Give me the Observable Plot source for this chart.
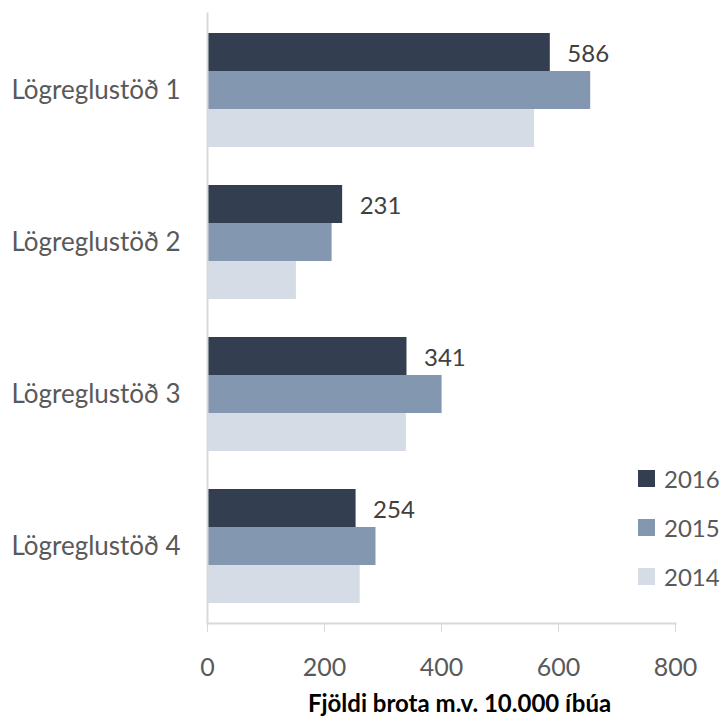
<!DOCTYPE html>
<html>
<head>
<meta charset="utf-8">
<script src="https://cdn.jsdelivr.net/npm/d3@7"></script>
<script src="https://cdn.jsdelivr.net/npm/@observablehq/plot@0.6"></script>
<style>
  html, body { margin: 0; padding: 0; background: #fff; }
  #wrap { position: relative; width: 726px; height: 718px; font-family: Lato, "Open Sans", sans-serif; }
  #legend { position: absolute; left: 638px; top: 0; }
  .li { position: absolute; left: 0; display: flex; align-items: center; white-space: nowrap; height: 30px; }
  .sw { width: 17px; height: 17px; margin-right: 9px; }
  .lt { font-size: 24px; color: #595959; }
</style>
</head>
<body>
<div id="wrap"><div id="chart"></div><div id="legend"></div></div>
<script>
const categories = ["Lögreglustöð 1", "Lögreglustöð 2", "Lögreglustöð 3", "Lögreglustöð 4"];
const years = ["2016", "2015", "2014"];
const v2016 = [586, 231, 341, 254];
const v2015 = [655, 213, 401, 288];
const v2014 = [559, 152, 340, 261];
const xTicks = [0, 200, 400, 600, 800];
const colors = ["#333f50", "#8497b0", "#d6dce5"];
const axisTitle = "Fjöldi brota m.v. 10.000 íbúa";

const series = {"2016": v2016, "2015": v2015, "2014": v2014};
const key = (c, y) => c + "|" + y;
const data = categories.flatMap((c, i) => years.map(y => ({cat: c, year: y, key: key(c, y), value: series[y][i]})));
// band domain: three bars per station, one empty slot between stations
const yDomain = categories.flatMap((c, i) => [
  ...years.map(y => key(c, y)),
  ...(i < categories.length - 1 ? ["gap" + i] : [])
]);
const labelKeys = categories.map(c => key(c, years[1]));

const chart = Plot.plot({
  width: 726,
  height: 718,
  marginLeft: 207,
  marginRight: 51,
  marginTop: 13,
  marginBottom: 95,
  style: {fontFamily: "Lato, 'Open Sans', sans-serif", color: "#595959", background: "white"},
  x: {domain: [0, 800]},
  y: {domain: yDomain, paddingInner: 0, paddingOuter: 0.5},
  color: {domain: years, range: colors},
  marks: [
    Plot.barX(data, {x: "value", y: "key", fill: "year"}),
    Plot.text(data.filter(d => d.year === "2016"), {
      x: "value", y: "key", text: d => String(d.value),
      textAnchor: "start", dx: 17, dy: 2, fontSize: 24, fill: "#404040"
    }),
    Plot.axisY({ticks: labelKeys, tickFormat: k => k.split("|")[0], tickSize: 0, tickPadding: 27, fontSize: 26, fill: "#595959", label: null}),
    Plot.axisX({ticks: xTicks, tickSize: 9, tickPadding: 26, stroke: "#d9d9d9", fill: "#595959", fontSize: 25, label: null}),
    Plot.frame({anchor: "left", stroke: "#d9d9d9", strokeWidth: 2}),
    Plot.frame({anchor: "bottom", stroke: "#d9d9d9", strokeWidth: 2}),
    Plot.text([axisTitle], {frameAnchor: "bottom", lineAnchor: "middle", dy: 81, dx: 18, fontSize: 24, fontWeight: "bold", fill: "#000"})
  ]
});
document.getElementById("chart").appendChild(chart);

const legend = document.getElementById("legend");
const legendCenters = [478, 527, 576];
years.forEach((y, i) => {
  const item = document.createElement("div");
  item.className = "li";
  item.style.top = (legendCenters[i] - 15) + "px";
  item.innerHTML = `<div class="sw" style="background:${colors[i]}"></div><span class="lt">${y}</span>`;
  legend.appendChild(item);
});
</script>
</body>
</html>
